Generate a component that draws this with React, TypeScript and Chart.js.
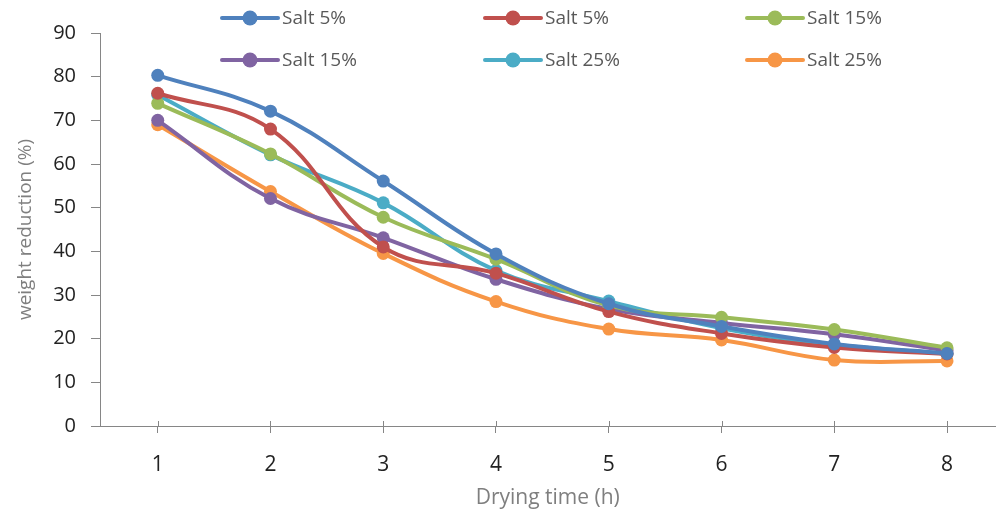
import React, { useEffect, useRef } from "react";
import { Chart, registerables } from "chart.js";

Chart.register(...registerables);

const hours = [1, 2, 3, 4, 5, 6, 7, 8];
const seriesNames = ["Salt 5%", "Salt 5%", "Salt 15%", "Salt 15%", "Salt 25%", "Salt 25%"];
const seriesColors = ["#4F81BD", "#C0504D", "#9BBB59", "#8064A2", "#4BACC6", "#F79646"];
const blueSalt5 = [80.3, 72.1, 56.1, 39.4, 28.0, 22.8, 18.8, 16.6];
const redSalt5 = [76.2, 68.0, 41.0, 35.0, 26.2, 21.2, 18.0, 16.5];
const greenSalt15 = [73.9, 62.3, 47.8, 38.2, 27.6, 24.9, 22.1, 17.9];
const purpleSalt15 = [70.0, 52.1, 43.1, 33.6, 26.8, 23.6, 21.0, 17.3];
const cyanSalt25 = [75.8, 62.1, 51.1, 35.6, 28.6, 22.4, 18.6, 16.6];
const orangeSalt25 = [69.0, 53.7, 39.5, 28.5, 22.2, 19.7, 15.1, 14.9];
const seriesValues = [blueSalt5, redSalt5, greenSalt15, purpleSalt15, cyanSalt25, orangeSalt25];
const yTicks = [0, 10, 20, 30, 40, 50, 60, 70, 80, 90];

const FONT = "'Open Sans', 'DejaVu Sans', sans-serif";
const AXIS_COLOR = "#868686";

const gridLegend = {
  id: "gridLegend",
  afterDraw(chart: any) {
    const ctx = chart.ctx;
    const colX = [222, 485, 747];
    const rowY = [18, 60];
    ctx.save();
    seriesNames.forEach((name, i) => {
      const col = i % 3;
      const row = Math.floor(i / 3);
      const x = colX[col];
      const y = rowY[row];
      ctx.strokeStyle = seriesColors[i];
      ctx.lineWidth = 4;
      ctx.lineCap = "round";
      ctx.beginPath();
      ctx.moveTo(x, y);
      ctx.lineTo(x + 56, y);
      ctx.stroke();
      ctx.fillStyle = seriesColors[i];
      ctx.beginPath();
      ctx.arc(x + 28, y, 7.5, 0, Math.PI * 2);
      ctx.fill();
      ctx.fillStyle = "#595959";
      ctx.font = `19px ${FONT}`;
      ctx.textBaseline = "middle";
      ctx.textAlign = "left";
      ctx.fillText(name, x + 60, y + 1);
    });
    ctx.restore();
  },
};

const innerTicks = {
  id: "innerTicks",
  afterDraw(chart: any) {
    const ctx = chart.ctx;
    const xs = chart.scales.x;
    const bottom = chart.chartArea.bottom;
    ctx.save();
    ctx.strokeStyle = AXIS_COLOR;
    ctx.lineWidth = 1;
    hours.forEach((h) => {
      const px = Math.round(xs.getPixelForValue(h)) + 0.5;
      ctx.beginPath();
      ctx.moveTo(px, bottom - 5);
      ctx.lineTo(px, bottom);
      ctx.stroke();
    });
    ctx.restore();
  },
};

export default function App() {
  const ref = useRef<HTMLCanvasElement | null>(null);
  useEffect(() => {
    if (!ref.current) return;
    const chart = new Chart(ref.current, {
      type: "line",
      data: {
        datasets: seriesValues.map((vals, i) => ({
          label: seriesNames[i],
          data: hours.map((h, j) => ({ x: h, y: vals[j] })),
          borderColor: seriesColors[i],
          backgroundColor: seriesColors[i],
          borderWidth: 4,
          pointRadius: 6.5,
          pointHoverRadius: 6.5,
          pointBorderWidth: 0,
          tension: 0.4,
          fill: false,
        })),
      },
      options: {
        responsive: true,
        maintainAspectRatio: false,
        animation: false,
        layout: { padding: { top: 33, right: 2, left: 0, bottom: 0 } },
        plugins: { legend: { display: false }, tooltip: { enabled: false } },
        scales: {
          x: {
            type: "linear",
            min: 0.488,
            max: 8.43,
            afterBuildTicks: (scale: any) => {
              scale.ticks = hours.map((h) => ({ value: h }));
            },
            afterFit: (scale: any) => {
              scale.height = 91;
            },
            grid: {
              drawOnChartArea: false,
              drawTicks: true,
              tickLength: 7,
              color: AXIS_COLOR,
            },
            border: { display: true, color: AXIS_COLOR, width: 1 },
            ticks: {
              color: "#222",
              font: { family: FONT, size: 21 },
              padding: 19,
              callback: (v: any) => String(v),
            },
            title: {
              display: true,
              text: "Drying time (h)",
              color: "#7f7f7f",
              font: { family: FONT, size: 21 },
              padding: { top: 0, bottom: 6 },
            },
          },
          y: {
            min: 0,
            max: 90,
            afterBuildTicks: (scale: any) => {
              scale.ticks = yTicks.map((v) => ({ value: v }));
            },
            afterFit: (scale: any) => {
              scale.width = 100;
            },
            grid: {
              drawOnChartArea: false,
              drawTicks: true,
              tickLength: 9,
              color: AXIS_COLOR,
            },
            border: { display: true, color: AXIS_COLOR, width: 1 },
            ticks: {
              color: "#222",
              font: { family: FONT, size: 20 },
              padding: 15,
            },
            title: {
              display: true,
              text: "weight reduction (%)",
              color: "#7f7f7f",
              font: { family: FONT, size: 19 },
              padding: { top: 14, bottom: 0 },
            },
          },
        },
      },
      plugins: [gridLegend, innerTicks],
    });
    return () => chart.destroy();
  }, []);
  return (
    <div style={{ position: "fixed", left: 0, top: 0, width: 1002, height: 517, background: "#fff" }}>
      <canvas ref={ref} />
    </div>
  );
}
